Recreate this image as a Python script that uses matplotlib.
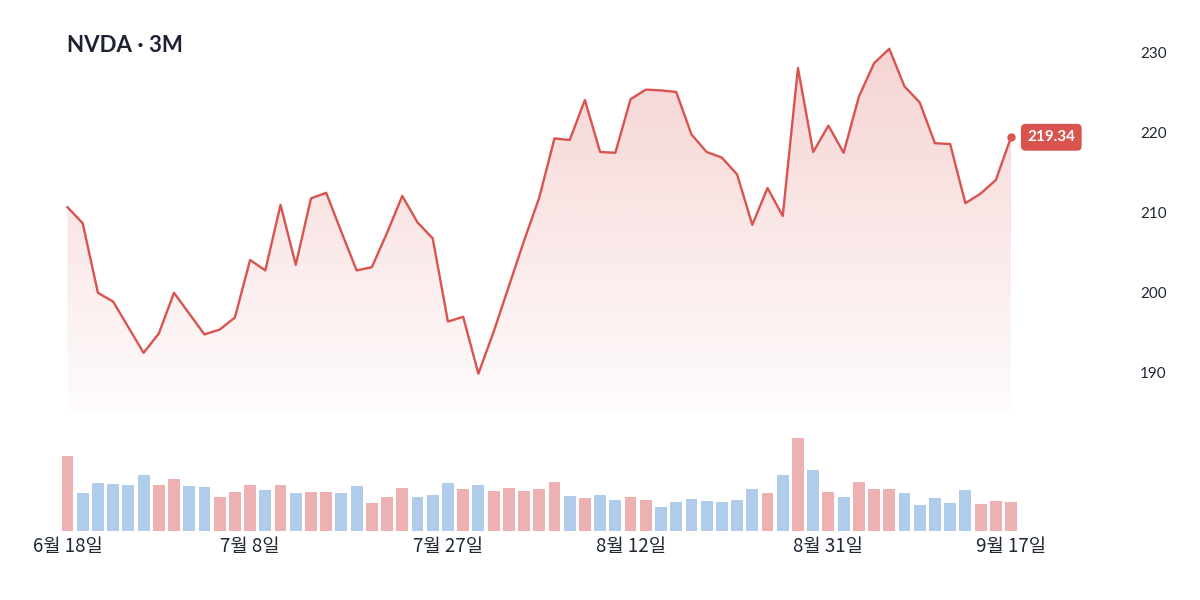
import numpy as np
import matplotlib.pyplot as plt
import matplotlib.colors as mcolors
from matplotlib.patches import Polygon

plt.rcParams['font.family'] = ['Lato', 'Noto Sans CJK KR', 'DejaVu Sans']

# NVDA daily close, last 3 months (63 sessions)
close = [
    210.6, 208.6, 199.9, 198.8, 195.6, 192.4, 194.8, 199.9, 197.3, 194.7,
    195.3, 196.8, 204.0, 202.7, 210.9, 203.4, 211.7, 212.4, 207.5, 202.7,
    203.1, 207.4, 212.0, 208.7, 206.7, 196.3, 196.9, 189.8, 195.0, 200.7,
    206.4, 211.8, 219.2, 219.0, 224.0, 217.5, 217.4, 224.1, 225.3, 225.2,
    225.0, 219.7, 217.5, 216.8, 214.7, 208.4, 213.0, 209.5, 228.0, 217.5,
    220.8, 217.4, 224.4, 228.6, 230.4, 225.7, 223.7, 218.6, 218.5, 211.1,
    212.3, 214.0, 219.34,
]

# volume (relative units)
volume = [
    75, 38, 48, 47, 46, 56, 46, 52, 45, 44,
    34, 39, 46, 41, 46, 38, 39, 39, 38, 45,
    28, 34, 43, 34, 36, 48, 42, 46, 40, 43,
    40, 42, 49, 35, 33, 36, 31, 34, 31, 24,
    29, 32, 30, 29, 31, 42, 38, 56, 93, 61,
    39, 34, 49, 42, 42, 38, 26, 33, 28, 41,
    27, 30, 29,
]

tick_idx = [0, 12, 25, 37, 50, 62]
tick_labels = ["6월 18일", "7월 8일", "7월 27일", "8월 12일", "8월 31일", "9월 17일"]
price_ticks = [190, 200, 210, 220, 230]

red = '#D9534F'
up_col = '#EDB1B1'
down_col = '#AFCDEB'
text_col = '#1F2733'

x = np.arange(len(close))
bar_colors = [up_col] + [up_col if close[i] >= close[i - 1] else down_col
                         for i in range(1, len(close))]

fig = plt.figure(figsize=(12, 6), dpi=100)

left = 55.3 / 1200
width = (1023.2 - 55.3) / 1200
ax = fig.add_axes([left, 188 / 600, width, 376 / 600])
axv = fig.add_axes([left, 69.3 / 600, width, 100 / 600])

ymin, ymax = 185, 232

# gradient fill under the line
verts = [(x[0], ymin)] + list(zip(x, close)) + [(x[-1], ymin)]
poly = Polygon(verts, closed=True, facecolor='none', edgecolor='none')
ax.add_patch(poly)
grad = np.zeros((256, 1, 4))
grad[..., :3] = mcolors.to_rgb(red)
grad[..., 3] = np.linspace(0.25, 0.02, 256)[:, None]
im = ax.imshow(grad, aspect='auto', origin='upper',
               extent=(x[0], x[-1], ymin, max(close)), zorder=1)
im.set_clip_path(poly)

ax.plot(x, close, color=red, lw=1.7, zorder=3)
ax.plot(x[-1], close[-1], 'o', color=red, ms=5, zorder=4)
ax.annotate(f"{close[-1]:.2f}", xy=(x[-1], close[-1]), xytext=(29, 0),
            textcoords='offset points', ha='center', va='center',
            color='white', fontsize=11, fontweight='bold',
            bbox=dict(boxstyle='round,pad=0.42,rounding_size=0.3',
                      fc=red, ec='none'), zorder=5)

ax.set_xlim(-0.8, 62.8)
ax.set_ylim(ymin, ymax)
ax.yaxis.tick_right()
ax.set_yticks(price_ticks)
ax.tick_params(axis='y', length=0, pad=84, labelsize=11, labelcolor=text_col)
for lab in ax.get_yticklabels():
    lab.set_horizontalalignment('left')
ax.set_xticks([])
for s in ax.spines.values():
    s.set_visible(False)

# volume bars
axv.bar(x, volume, width=0.78, color=bar_colors)
axv.set_xlim(-0.8, 62.8)
axv.set_ylim(0, 100)
axv.set_yticks([])
axv.set_xticks(tick_idx)
axv.set_xticklabels(tick_labels, family=['Noto Sans CJK KR'], fontsize=13.5,
                    color=text_col)
axv.tick_params(axis='x', length=0, pad=3.5)
for s in axv.spines.values():
    s.set_visible(False)

fig.text(67 / 1200, 1 - 45 / 600, "NVDA · 3M", fontsize=16, fontweight='bold',
         color='#1B2332', va='center', ha='left')

fig.savefig("out.png", dpi=100)
